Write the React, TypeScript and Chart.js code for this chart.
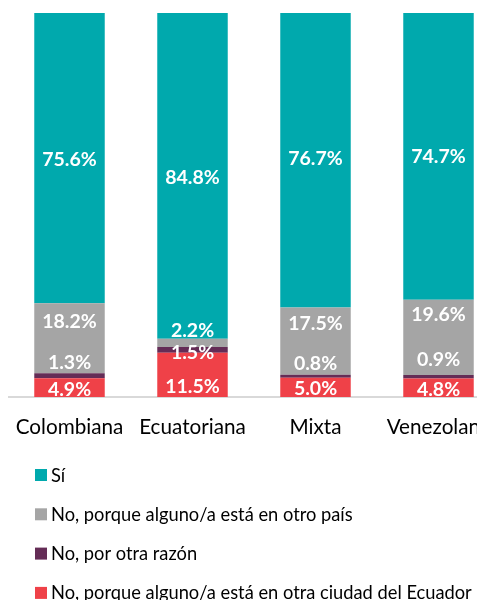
import React, { useEffect, useRef } from 'react';
import { Chart, registerables } from 'chart.js';

Chart.register(...registerables);

const categories = ['Colombiana', 'Ecuatoriana', 'Mixta', 'Venezolana'];
const otraCiudad = [4.9, 11.5, 5.0, 4.8];
const otraRazon = [1.3, 1.5, 0.8, 0.9];
const otroPais = [18.2, 2.2, 17.5, 19.6];
const si = [75.6, 84.8, 76.7, 74.7];

const seriesNames = [
  'No, porque alguno/a está en otra ciudad del Ecuador',
  'No, por otra razón',
  'No, porque alguno/a está en otro país',
  'Sí',
];
const seriesColors = ['#EF4148', '#642C56', '#A5A5A5', '#00A9AD'];

// vertical label shifts (px) relative to segment centre, per dataset, per category
const labelShifts = [
  [1, 10.8, 1, 1],
  [-13.7, 2.3, -13.3, -18],
  [-17.6, -13.3, -18.4, -23],
  [1, 1.7, -2, 0],
];

const FONT = 'Lato, "Open Sans", sans-serif';

const labelsPlugin = {
  id: 'segLabels',
  afterDatasetsDraw(chart: any) {
    const ctx = chart.ctx;
    ctx.save();
    const size = 19.5;
    ctx.font = `bold ${size}px ${FONT}`;
    ctx.fillStyle = '#FFFFFF';
    ctx.textAlign = 'center';
    ctx.textBaseline = 'alphabetic';
    chart.data.datasets.forEach((ds: any, di: number) => {
      const meta = chart.getDatasetMeta(di);
      meta.data.forEach((el: any, i: number) => {
        const v = ds.data[i];
        const cy = (el.y + el.base) / 2 + labelShifts[di][i];
        ctx.fillText(v.toFixed(1) + '%', el.x, cy + size * 0.358);
      });
    });
    ctx.restore();
  },
};

const legendPlugin = {
  id: 'vertLegend',
  afterDraw(chart: any) {
    const ctx = chart.ctx;
    const xs = chart.scales.x;
    const base = xs.bottom + 18;
    const step = 39.3;
    const size = 18.3;
    ctx.save();
    ctx.font = `${size}px ${FONT}`;
    ctx.textAlign = 'left';
    ctx.textBaseline = 'alphabetic';
    const n = chart.data.datasets.length;
    for (let k = 0; k < n; k++) {
      const ds = chart.data.datasets[n - 1 - k];
      const y = base + k * step;
      ctx.fillStyle = ds.backgroundColor;
      ctx.fillRect(27, y - 6, 12, 12);
      ctx.fillStyle = '#000000';
      ctx.fillText(ds.label, 43, y + size * 0.358);
    }
    ctx.restore();
  },
};

export default function App() {
  const ref = useRef<HTMLCanvasElement>(null);
  useEffect(() => {
    const values = [otraCiudad, otraRazon, otroPais, si];
    const chart = new Chart(ref.current as HTMLCanvasElement, {
      type: 'bar',
      data: {
        labels: categories,
        datasets: values.map((d, i) => ({
          label: seriesNames[i],
          data: d,
          backgroundColor: seriesColors[i],
          borderWidth: 0,
          categoryPercentage: 1,
          barPercentage: 0.573,
        })),
      },
      options: {
        animation: false,
        responsive: false,
        devicePixelRatio: 1,
        layout: { padding: { top: 5, left: 0, right: 8, bottom: 151 } },
        plugins: { legend: { display: false }, tooltip: { enabled: false } },
        scales: {
          x: {
            stacked: true,
            grid: { display: false, drawTicks: false },
            border: { display: true, color: '#D9D9D9', width: 2 },
            ticks: { color: '#000000', font: { family: FONT, size: 20.7 }, padding: 18 },
            afterFit: (s: any) => {
              s.height = 60;
              s.paddingLeft = 0;
              s.paddingRight = 0;
            },
          },
          y: { stacked: true, display: false, min: 0, max: 100 },
        },
      } as any,
      plugins: [labelsPlugin, legendPlugin],
    });
    return () => chart.destroy();
  }, []);
  return (
    <div style={{ width: 500, height: 600 }}>
      <canvas ref={ref} width={500} height={600} style={{ display: 'block' }} />
    </div>
  );
}
